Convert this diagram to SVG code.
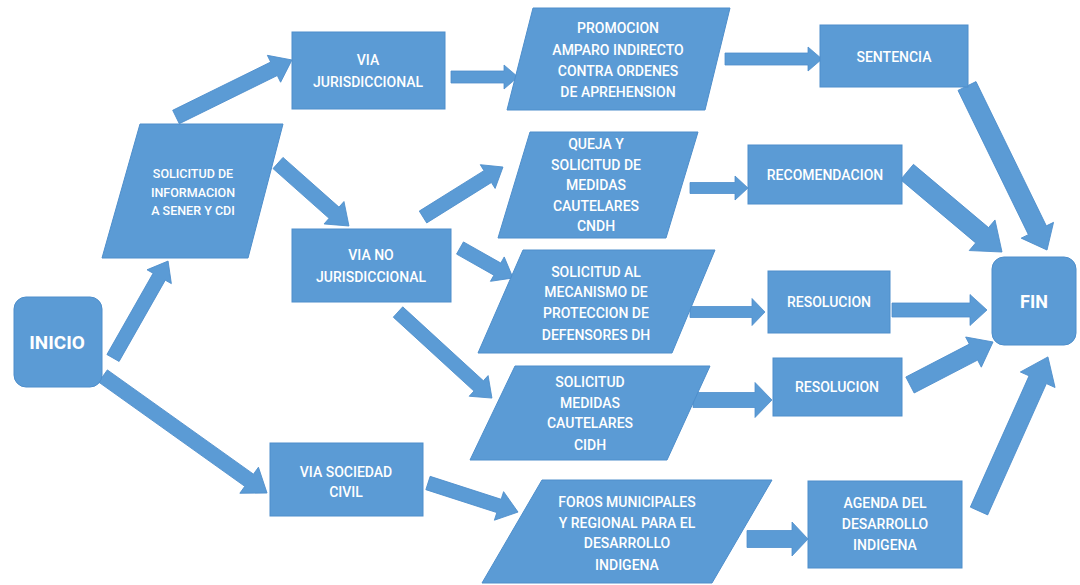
<svg xmlns="http://www.w3.org/2000/svg" width="1080" height="585" viewBox="0 0 1080 585">
<style>
.shp{fill:#5B9BD5;stroke:#4E8ECB;stroke-width:1}
.arr{fill:#5B9BD5;stroke:#4E8ECB;stroke-width:0.8}
text{font-family:Roboto,"Liberation Sans",sans-serif;font-size:14px;font-weight:500;fill:#FFFFFF;text-anchor:middle}
.sm{font-size:12.5px}
.big{font-size:19px;font-weight:bold}
</style>
<rect width="1080" height="585" fill="#FFFFFF"/>
<g id="connectors">
<path class="arr" transform="translate(113,358) rotate(-60.4)" d="M0,-7 H93.5 V-14 L111.5,0 L93.5,14 V7 H0 Z"/>
<path class="arr" transform="translate(176,117) rotate(-26.2)" d="M0,-7.5 H109.2 V-15 L129.2,0 L109.2,15 V7.5 H0 Z"/>
<path class="arr" transform="translate(278,163) rotate(41.6)" d="M0,-7.5 H74.9 V-15 L94.9,0 L74.9,15 V7.5 H0 Z"/>
<path class="arr" d="M451,71 L504,71 L504,65 L518,77 L504,89 L504,83 L451,83 Z"/>
<path class="arr" d="M725,53 L808,53 L808,47 L822,59 L808,71 L808,65 L725,65 Z"/>
<path class="arr" transform="translate(967,86) rotate(64)" d="M0,-10 H160.5 V-18 L182.5,0 L160.5,18 V10 H0 Z"/>
<path class="arr" transform="translate(907,172) rotate(40.1)" d="M0,-10 H98.2 V-20 L124.2,0 L98.2,20 V10 H0 Z"/>
<path class="arr" d="M892,303 L970,303 L970,294.5 L987,310 L970,325.5 L970,317 L892,317 Z"/>
<path class="arr" transform="translate(910,385) rotate(-27.4)" d="M0,-9 H71.5 V-17 L93.5,0 L71.5,17 V9 H0 Z"/>
<path class="arr" transform="translate(979,511) rotate(-65.9)" d="M0,-9.5 H143.8 V-19 L168.8,0 L143.8,19 V9.5 H0 Z"/>
<path class="arr" transform="translate(423,217) rotate(-32)" d="M0,-7 H76.3 V-14 L94.3,0 L76.3,14 V7 H0 Z"/>
<path class="arr" transform="translate(460,248) rotate(29.5)" d="M0,-7 H42.9 V-14 L60.9,0 L42.9,14 V7 H0 Z"/>
<path class="arr" transform="translate(398,312) rotate(42.5)" d="M0,-7 H109.4 V-14 L127.4,0 L109.4,14 V7 H0 Z"/>
<path class="arr" transform="translate(428,483) rotate(17.9)" d="M0,-7 H74.6 V-15 L94.6,0 L74.6,15 V7 H0 Z"/>
<path class="arr" transform="translate(103,376) rotate(35.5)" d="M0,-7.5 H179.5 V-16 L201.5,0 L179.5,16 V7.5 H0 Z"/>
<path class="arr" d="M690,182.5 L735,182.5 L735,176 L748,188 L735,200 L735,193.5 L690,193.5 Z"/>
<path class="arr" d="M690,306.5 L752,306.5 L752,298.5 L765,312 L752,325.5 L752,317.5 L690,317.5 Z"/>
<path class="arr" d="M693,392.5 L755,392.5 L755,382.5 L772,400 L755,417.5 L755,407.5 L693,407.5 Z"/>
<path class="arr" d="M747,530.5 L792,530.5 L792,522 L808,539 L792,556 L792,547.5 L747,547.5 Z"/>
</g>
<g id="inicio">
<rect class="shp" x="14" y="297" width="88" height="90" rx="12"/>
<text class="big" x="57" y="349">INICIO</text>
</g>
<g id="solicitud-info">
<polygon class="shp" points="140,124 283,124 248,258 102,258"/>
<text class="sm" x="193" y="178">SOLICITUD DE</text>
<text class="sm" x="193" y="197">INFORMACION</text>
<text class="sm" x="193" y="215">A SENER Y CDI</text>
</g>
<g id="via-jurisdiccional">
<rect class="shp" x="292" y="32" width="153" height="77"/>
<text x="368" y="65">VIA</text>
<text x="368" y="87">JURISDICCIONAL</text>
</g>
<g id="via-no-jurisdiccional">
<rect class="shp" x="292" y="229" width="159" height="73"/>
<text x="371" y="260">VIA NO</text>
<text x="371" y="282">JURISDICCIONAL</text>
</g>
<g id="via-sociedad-civil">
<rect class="shp" x="270" y="443" width="153" height="73"/>
<text x="346" y="477">VIA SOCIEDAD</text>
<text x="346" y="497">CIVIL</text>
</g>
<g id="promocion">
<polygon class="shp" points="533,8 730,8 705,110 507,110"/>
<text x="618" y="33">PROMOCION</text>
<text x="618" y="55">AMPARO INDIRECTO</text>
<text x="618" y="76">CONTRA ORDENES</text>
<text x="618" y="97">DE APREHENSION</text>
</g>
<g id="queja">
<polygon class="shp" points="530,132 698,132 666,238 498,238"/>
<text x="596" y="149">QUEJA Y</text>
<text x="596" y="170">SOLICITUD DE</text>
<text x="596" y="190">MEDIDAS</text>
<text x="596" y="211">CAUTELARES</text>
<text x="596" y="231">CNDH</text>
</g>
<g id="mecanismo">
<polygon class="shp" points="523,250 715,250 672,353 478,353"/>
<text x="596" y="277">SOLICITUD AL</text>
<text x="596" y="297">MECANISMO DE</text>
<text x="596" y="318">PROTECCION DE</text>
<text x="596" y="340">DEFENSORES DH</text>
</g>
<g id="cidh">
<polygon class="shp" points="515,366 710,366 667,460 470,460"/>
<text x="590" y="387">SOLICITUD</text>
<text x="590" y="408">MEDIDAS</text>
<text x="590" y="428">CAUTELARES</text>
<text x="590" y="450">CIDH</text>
</g>
<g id="foros">
<polygon class="shp" points="542,480 772,480 712,583 482,583"/>
<text x="627" y="507">FOROS MUNICIPALES</text>
<text x="627" y="528">Y REGIONAL PARA EL</text>
<text x="627" y="548">DESARROLLO</text>
<text x="627" y="570">INDIGENA</text>
</g>
<g id="sentencia">
<rect class="shp" x="820" y="25" width="148" height="62"/>
<text x="894" y="62">SENTENCIA</text>
</g>
<g id="recomendacion">
<rect class="shp" x="748" y="145" width="154" height="59"/>
<text x="825" y="180">RECOMENDACION</text>
</g>
<g id="resolucion-1">
<rect class="shp" x="768" y="271" width="122" height="62"/>
<text x="829" y="307">RESOLUCION</text>
</g>
<g id="resolucion-2">
<rect class="shp" x="773" y="358" width="129" height="58"/>
<text x="837" y="392">RESOLUCION</text>
</g>
<g id="agenda">
<rect class="shp" x="808" y="481" width="154" height="87"/>
<text x="885" y="508">AGENDA DEL</text>
<text x="885" y="529">DESARROLLO</text>
<text x="885" y="550">INDIGENA</text>
</g>
<g id="fin">
<rect class="shp" x="992" y="257" width="84" height="88" rx="12"/>
<text class="big" x="1034" y="308" style="font-size:18px">FIN</text>
</g>
</svg>
